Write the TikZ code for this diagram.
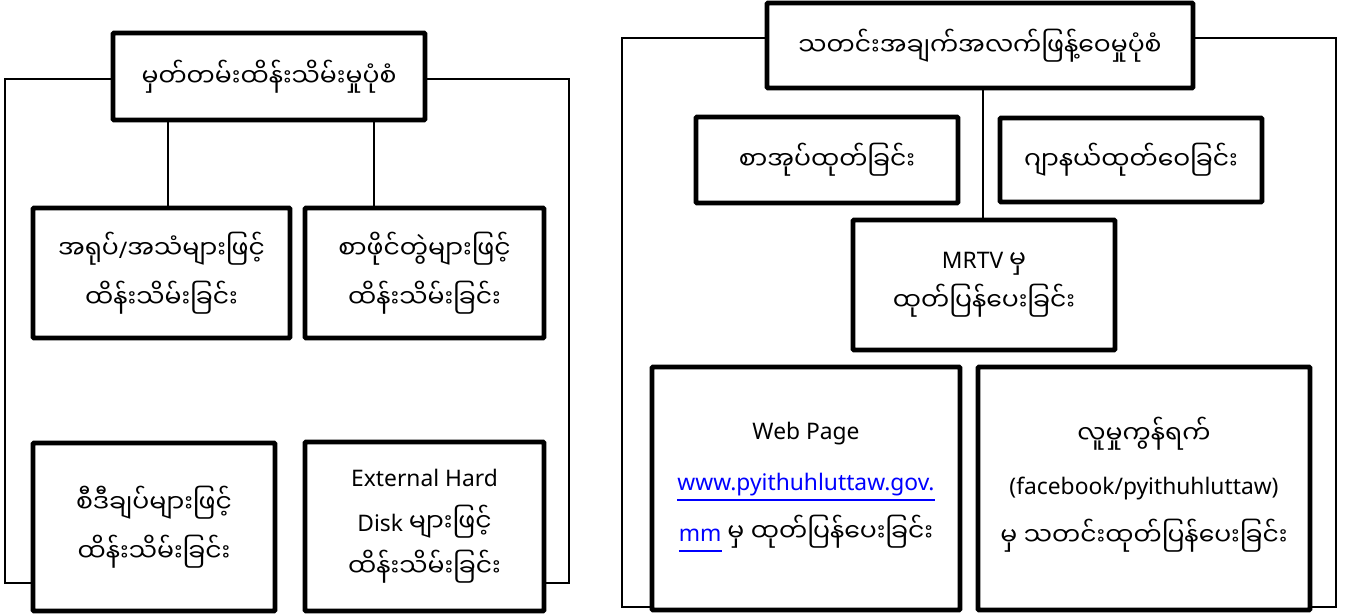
\documentclass[tikz,border=0pt]{standalone}
\usepackage{fontspec}
\setmainfont{Noto Sans}
\newfontfamily\my[Script=Myanmar,Scale=1.10]{Noto Sans Myanmar UI}
\newcommand\ulink[1]{{\color{blue}\setbox0\hbox{#1}\rlap{\vrule height -8.5pt depth 10.5pt width \wd0}\box0}}
\begin{document}
\begin{tikzpicture}[x=1pt,y=-1pt,
  box/.style={draw, line width=4.8pt, rounded corners=1pt, inner sep=0pt, outer sep=0pt,
    align=center, font=\fontsize{22.8}{49}\selectfont},
  conn/.style={line width=1.5pt}]
\useasboundingbox (0,0) rectangle (1346,614);
% ---------- left panel ----------
\node[box, minimum width=312pt, minimum height=87pt] (t1) at (269,76.5) {\my မှတ်တမ်းထိန်းသိမ်းမှုပုံစံ};
\node[box, minimum width=257pt, minimum height=130pt] (a1) at (161.5,273) {\my အရုပ်{\rmfamily/}အသံများဖြင့်\\\my ထိန်းသိမ်းခြင်း};
\node[box, minimum width=239pt, minimum height=130pt] (a2) at (424.5,273) {\my စာဖိုင်တွဲများဖြင့်\\\my ထိန်းသိမ်းခြင်း};
\node[box, minimum width=242pt, minimum height=168pt] (b1) at (154,527) {\my စီဒီချပ်များဖြင့်\\\my ထိန်းသိမ်းခြင်း};
\node[box, minimum width=239pt, minimum height=169pt, font=\fontsize{22.8}{45}\selectfont] (b2) at (424.5,526.5) {External Hard\\Disk {\my များဖြင့်}\\\my ထိန်းသိမ်းခြင်း};
\coordinate (v1) at (168,0);
\coordinate (v2) at (374,0);
\coordinate (ltl) at (5,79);
\coordinate (lbl) at (5,583);
\coordinate (rtl) at (569,79);
\coordinate (rbl) at (569,583);
\draw[conn] (t1.south -| v1) -- (a1.north -| v1);
\draw[conn] (t1.south -| v2) -- (a2.north -| v2);
\draw[conn] (t1.west |- ltl) -- (ltl) -- (lbl) -- (b1.west |- lbl);
\draw[conn] (t1.east |- rtl) -- (rtl) -- (rbl) -- (b2.east |- rbl);
% ---------- right panel ----------
\node[box, minimum width=426pt, minimum height=85pt] (t2) at (980,45.5) {\my သတင်းအချက်အလက်ဖြန့်ဝေမှုပုံစံ};
\node[box, minimum width=262pt, minimum height=86pt] (c1) at (827,160) {\my စာအုပ်ထုတ်ခြင်း};
\node[box, minimum width=262pt, minimum height=84pt] (c2) at (1131,160) {\my ဂျာနယ်ထုတ်ဝေခြင်း};
\node[box, minimum width=262pt, minimum height=130pt, font=\fontsize{22.8}{42}\selectfont] (m) at (984,285) {MRTV {\my မှ}\\\my ထုတ်ပြန်ပေးခြင်း};
\node[box, minimum width=308pt, minimum height=243pt, font=\fontsize{22.8}{51}\selectfont] (d1) at (806,488.5) {Web Page\\\ulink{www.pyithuhluttaw.gov.}\\\ulink{mm} {\my မှ ထုတ်ပြန်ပေးခြင်း}\\[-37pt]};
\node[box, minimum width=332pt, minimum height=243pt, font=\fontsize{22.8}{51}\selectfont] (d2) at (1144,488.5) {\my လူမှုကွန်ရက်\\(facebook/pyithuhluttaw)\\\my မှ သတင်းထုတ်ပြန်ပေးခြင်း\\[-37pt]};
\coordinate (cv) at (983,0);
\coordinate (Ltl) at (622,38);
\coordinate (Lbl) at (622,607);
\coordinate (Rtl) at (1336,38);
\coordinate (Rbl) at (1336,607);
\draw[conn] (t2.south -| cv) -- (m.north -| cv);
\draw[conn] (t2.west |- Ltl) -- (Ltl) -- (Lbl) -- (d1.west |- Lbl);
\draw[conn] (t2.east |- Rtl) -- (Rtl) -- (Rbl) -- (d2.east |- Rbl);
\end{tikzpicture}
\end{document}
